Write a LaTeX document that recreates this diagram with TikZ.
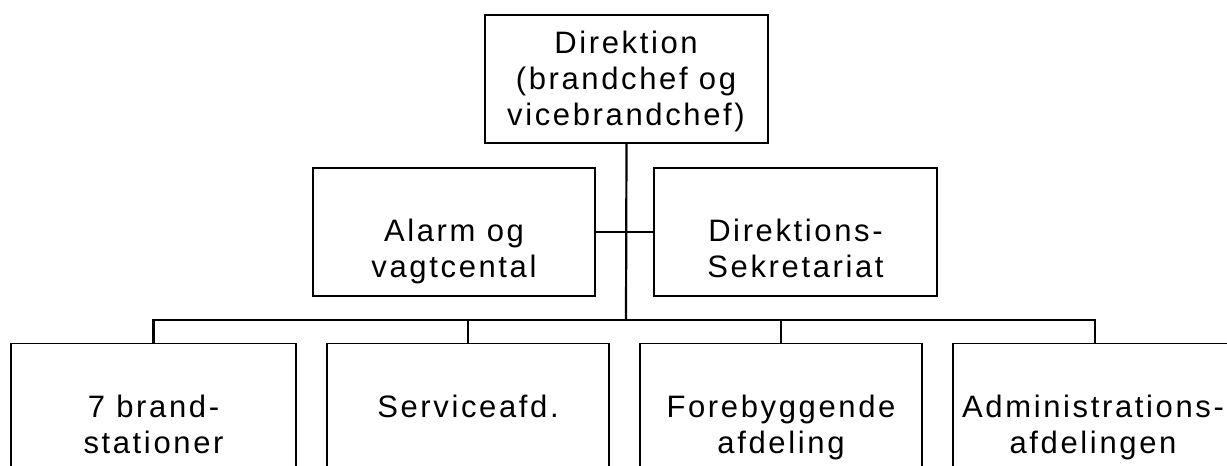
\documentclass[tikz,border=0pt]{standalone}
\usepackage{fontspec}
\setmainfont{Liberation Sans}[LetterSpace=8.5]
\newcommand\stack[1]{\vtop{\halign{\hfil##\hfil\cr#1\crcr}}}
\begin{document}
\begin{tikzpicture}[x=1pt,y=-1pt,
  box/.style={draw, line width=1.2pt, inner sep=0pt},
  link/.style={line width=2.2pt},
  lbl/.style={font=\fontsize{31}{36}\selectfont, inner sep=0pt, anchor=base}]
\useasboundingbox (0,0) rectangle (1227,466);
\clip (0,0) rectangle (1227,466);
% boxes
\node[box, minimum width=283pt, minimum height=128pt] (top) at (626.5,79) {};
\node[box, minimum width=282pt, minimum height=128pt] (alarm) at (454,232) {};
\node[box, minimum width=283pt, minimum height=128pt] (sekr) at (795.5,232) {};
\node[box, minimum width=285pt, minimum height=200pt, anchor=north] (b1) at (153.5,343) {};
\node[box, minimum width=282pt, minimum height=200pt, anchor=north] (b2) at (468,343) {};
\node[box, minimum width=282pt, minimum height=200pt, anchor=north] (b3) at (781,343) {};
\node[box, minimum width=284pt, minimum height=200pt, anchor=north] (b4) at (1095,343) {};
% texts
\node[lbl] (ttop) at (626,53) {\stack{Direktion\cr(brandchef og\cr vicebrandchef)}};
\node[lbl] (talarm) at (454,241) {\stack{Alarm og\cr vagtcental}};
\node[lbl] (tsekr) at (795.5,241) {\stack{Direktions-\cr Sekretariat}};
\node[lbl] (tb1) at (153.5,417) {\stack{7 brand-\cr stationer}};
\node[lbl] (tb2) at (468,417) {\stack{Serviceafd.}};
\node[lbl] (tb3) at (781,417) {\stack{Forebyggende\cr afdeling}};
\node[lbl] (tb4) at (1093,417) {\stack{Administrations-\cr afdelingen}};
% connectors
\coordinate (bus) at (626,320);
\draw[link] (top.south) -- (bus);
\draw[link] (alarm.east) -- (sekr.west);
\draw[link] (b1.north) |- (bus) -| (b4.north);
\draw[link] (b2.north) -- (b2.north |- bus);
\draw[link] (b3.north) -- (b3.north |- bus);
\end{tikzpicture}
\end{document}
